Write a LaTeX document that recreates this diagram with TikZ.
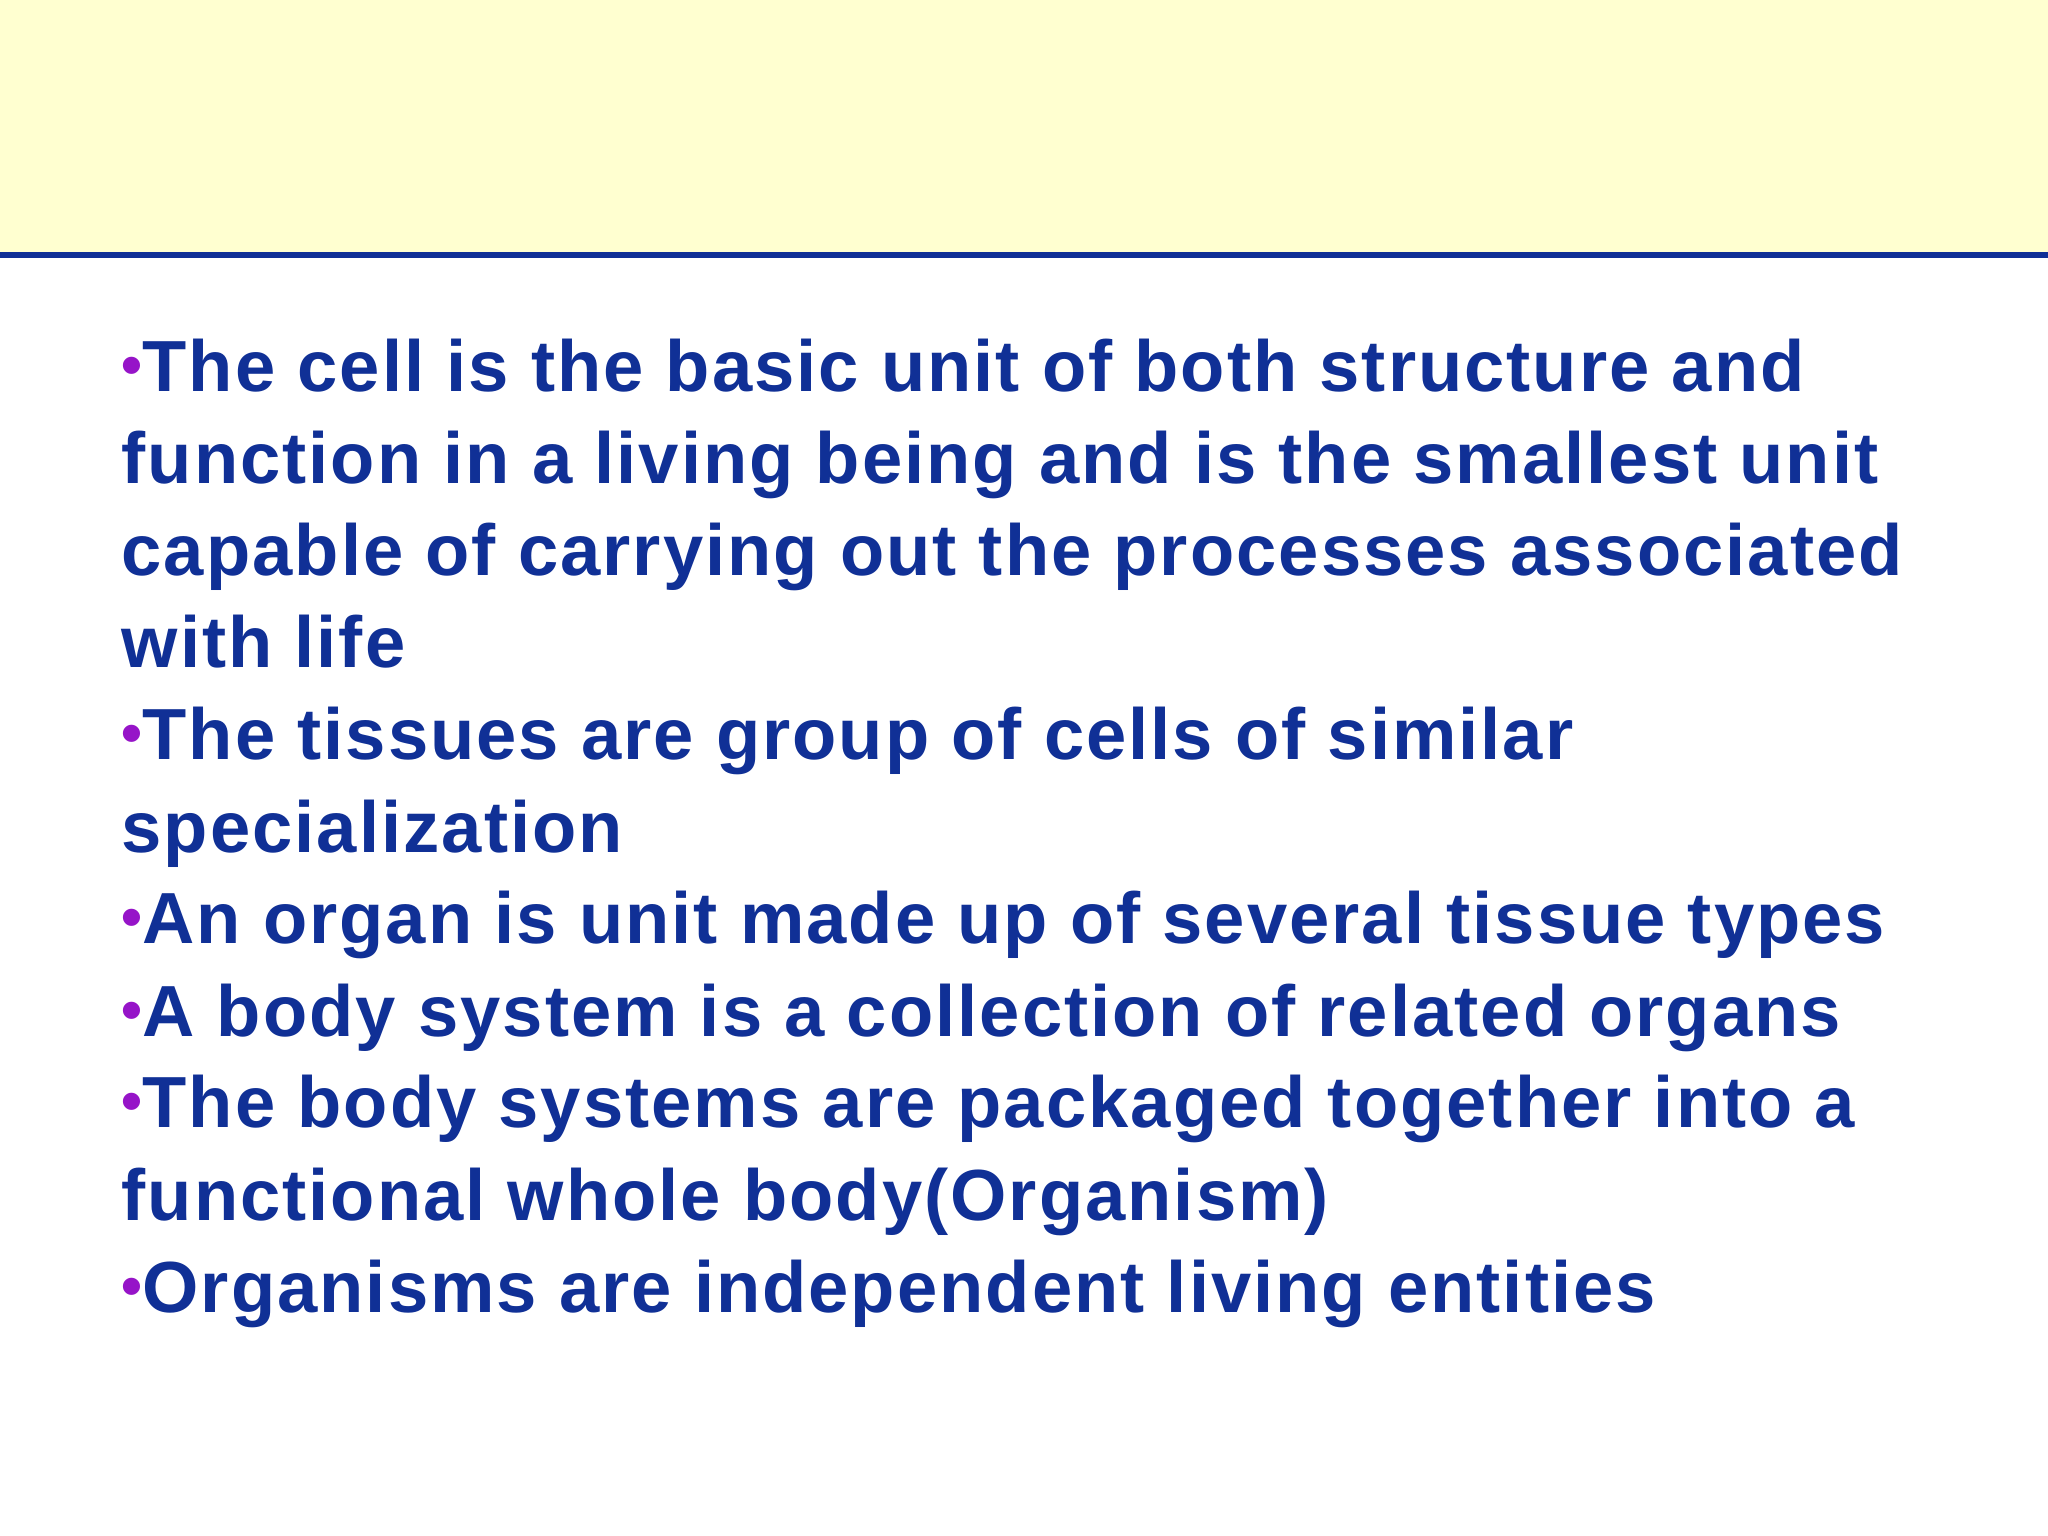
\documentclass[tikz,border=0pt]{standalone}
\usepackage{fontspec}
\setmainfont{Liberation Sans}[LetterSpace=2.8]
\definecolor{textBlue}{RGB}{16,48,150}
\definecolor{dotPurple}{RGB}{150,20,200}
\definecolor{bandYellow}{RGB}{255,255,208}
\newcommand{\dotb}{{\color{dotPurple}\fontsize{17}{18}\selectfont\raisebox{0.2ex}{•}}}
\begin{document}
\begin{tikzpicture}[lineStyle/.style={anchor=base west, inner sep=0pt, text=textBlue, font=\fontsize{20.6}{24}\selectfont\bfseries}]
\useasboundingbox (0,0) rectangle (20.48,15.36);
\fill[white] (0,0) rectangle (20.48,15.36);
\fill[bandYellow] (0,12.81) rectangle (20.48,15.36);
\draw[textBlue, line width=1.6pt] (0,12.81) -- (20.48,12.81);

\node[lineStyle](l1) at (1.21,11.44) {\dotb The cell is the basic unit of both structure and};
\node[lineStyle](l2) at (1.21,10.52) {function in a living being and is the smallest unit};
\node[lineStyle](l3) at (1.21,9.60) {capable of carrying out the processes associated};
\node[lineStyle](l4) at (1.21,8.68) {with life};
\node[lineStyle](l5) at (1.21,7.76) {\dotb The tissues are group of cells of similar};
\node[lineStyle](l6) at (1.21,6.83) {specialization};
\node[lineStyle](l7) at (1.21,5.92) {\dotb An organ is unit made up of several tissue types};
\node[lineStyle](l8) at (1.21,4.99) {\dotb A body system is a collection of related organs};
\node[lineStyle](l9) at (1.21,4.08) {\dotb The body systems are packaged together into a};
\node[lineStyle](l10) at (1.21,3.15) {functional whole body(Organism)};
\node[lineStyle](l11) at (1.21,2.23) {\dotb Organisms are independent living entities};
\end{tikzpicture}
\end{document}
